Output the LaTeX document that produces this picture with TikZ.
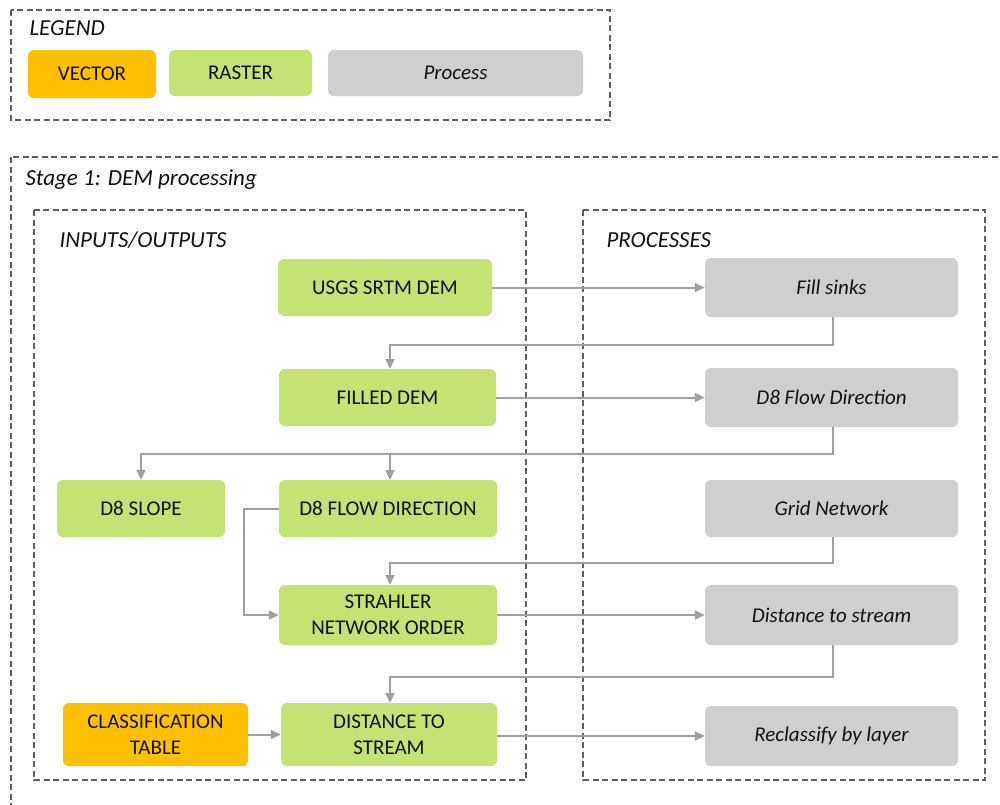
\documentclass[tikz,border=0pt]{standalone}
\usepackage{fontspec}
\setmainfont{Carlito}
\usetikzlibrary{arrows.meta}
\definecolor{vec}{HTML}{FFC000}
\definecolor{ras}{HTML}{C5E375}
\definecolor{proc}{HTML}{D0CECE}
\definecolor{link}{HTML}{A0A0A0}
\definecolor{frame}{HTML}{5E5E5E}
\definecolor{ink}{HTML}{111111}
\tikzset{
  box/.style={rounded corners=6pt, minimum height=57pt, align=center,
    font=\fontsize{21}{26}\selectfont, text=ink, inner sep=2pt},
  vecbox/.style={box, fill=vec},
  rasbox/.style={box, fill=ras},
  procbox/.style={box, fill=proc, font=\fontsize{21}{26}\selectfont\itshape},
  group/.style={draw=frame, line width=1.1pt, dash pattern=on 6pt off 3.5pt},
  grouplabel/.style={anchor=west, font=\fontsize{23}{27}\selectfont\itshape, text=ink},
  flow/.style={draw=link, line width=2pt, -{Triangle[length=10pt,width=9pt]}},
}
\begin{document}
\begin{tikzpicture}[x=1pt,y=-1pt]
\useasboundingbox (0,0) rectangle (1000,804);
\clip (0,0) rectangle (1000,804);
\fill[white] (0,0) rectangle (1000,804);

% legend
\draw[group] (11,10) rectangle (610,120);
\node[grouplabel] (leg) at (26,28) {LEGEND};
\node[vecbox, minimum width=128pt, minimum height=48pt] (lv) at (92,74) {VECTOR};
\node[rasbox, minimum width=143pt, minimum height=46pt] (lr) at (240.5,73) {RASTER};
\node[procbox, minimum width=255pt, minimum height=46pt] (lp) at (455.5,73) {Process};

% stage frame and its two columns
\draw[group] (11,157) rectangle (1010,815);
\node[grouplabel] (stage) at (22,180) {Stage 1: DEM processing};
\draw[group] (34,210) rectangle (526,780);
\node[grouplabel] (io) at (56,240) {INPUTS/OUTPUTS};
\draw[group] (583,210) rectangle (985,780);
\node[grouplabel] (pr) at (603,240) {PROCESSES};

% inputs / outputs
\node[rasbox, minimum width=214pt] (dem) at (385,287.5) {USGS SRTM DEM};
\node[rasbox, minimum width=217pt] (filled) at (387.5,397.5) {FILLED DEM};
\node[rasbox, minimum width=168pt] (slope) at (141,508.5) {D8 SLOPE};
\node[rasbox, minimum width=218pt] (fdir) at (388,508.5) {D8 FLOW DIRECTION};
\node[rasbox, minimum width=218pt, minimum height=60pt] (strahler) at (388,615) {STRAHLER\\NETWORK ORDER};
\node[vecbox, minimum width=185pt, minimum height=63pt] (table) at (155.5,734.5) {CLASSIFICATION\\TABLE};
\node[rasbox, minimum width=216pt, minimum height=63pt] (dist) at (389,734.5) {DISTANCE TO\\STREAM};

% processes
\node[procbox, minimum width=253pt, minimum height=59pt] (fill) at (831.5,287.5) {Fill sinks};
\node[procbox, minimum width=253pt, minimum height=59pt] (d8) at (831.5,397.5) {D8 Flow Direction};
\node[procbox, minimum width=253pt, minimum height=57pt] (grid) at (831.5,508.5) {Grid Network};
\node[procbox, minimum width=253pt, minimum height=60pt] (dts) at (831.5,615) {Distance to stream};
\node[procbox, minimum width=253pt, minimum height=60pt] (recl) at (831.5,736) {Reclassify by layer};

% connectors
\draw[flow] (dem.east) -- (fill.west);
\draw[flow] (fill.south -| 833,0) |- (390,345) -- (390,369);
\draw[flow] (filled.east) -- (d8.west);
\draw[flow] (d8.south -| 833,0) |- (141,454) -- (slope.north);
\draw[flow] (390,454) -- (390,480);
\draw[flow] (fdir.west) -- (244,508.5) |- (strahler.west);
\draw[flow] (grid.south -| 833,0) |- (390,563) -- (390,585);
\draw[flow] (strahler.east) -- (dts.west);
\draw[flow] (dts.south -| 833,0) |- (390,677) -- (390,703);
\draw[flow] (table.east) -- (dist.west);
\draw[flow] (dist.east |- 0,736) -- (recl.west);
\end{tikzpicture}
\end{document}
